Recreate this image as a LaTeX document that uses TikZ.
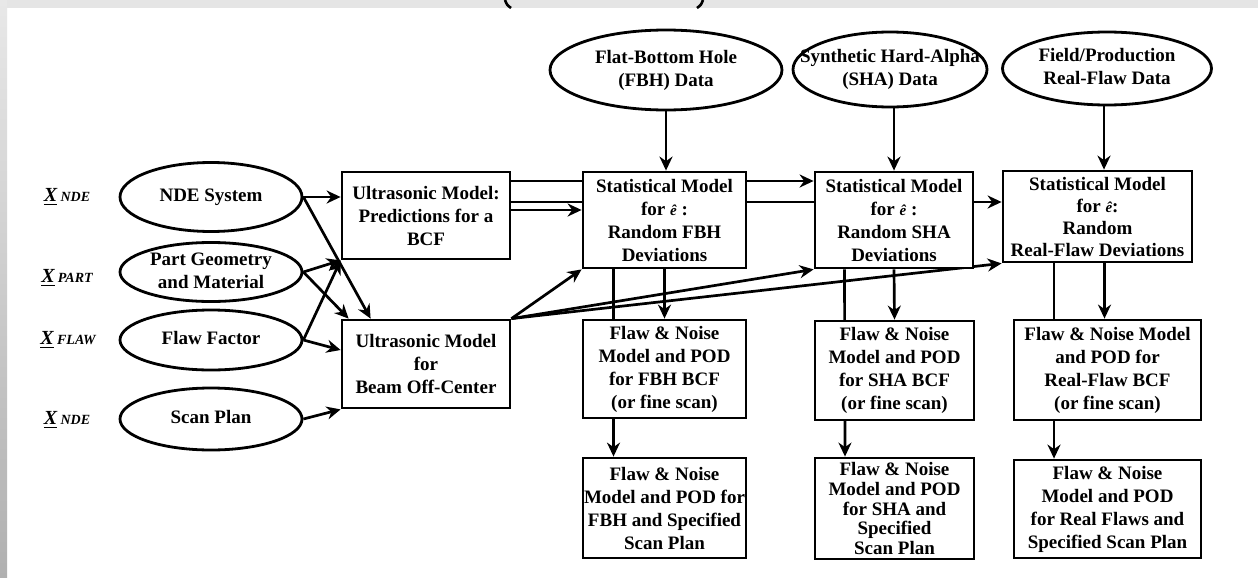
\documentclass[tikz,border=0pt]{standalone}
\usepackage{fontspec}
\setmainfont{Liberation Serif}
\usetikzlibrary{arrows.meta,calc,shapes.geometric}
\pgfdeclarelayer{back}
\pgfdeclarelayer{bg}
\pgfsetlayers{back,bg,main}
\newcommand{\ctext}[1]{\makebox[0pt]{\begin{tabular}{@{}c@{}}#1\end{tabular}}}
\newcommand{\xvar}[1]{\underline{X}\,{\fontsize{7}{8}\selectfont #1}}
\newcommand{\ehat}{{\fontsize{7.5}{8}\selectfont\itshape ê}}
\begin{document}
\begin{tikzpicture}[x=0.5pt,y=-0.5pt,
 box/.style={draw,line width=1.4pt,fill=white,rectangle,inner sep=0pt,align=center,font=\bfseries\fontsize{9.5}{11.5}\selectfont},
 oval/.style={draw,line width=1.4pt,fill=white,ellipse,inner sep=0pt,font=\bfseries\fontsize{9.5}{11.5}\selectfont},
 arr/.style={line width=1.35pt,-{Stealth[length=7pt,width=6.5pt]}},
 lab/.style={font=\bfseries\itshape\fontsize{10}{12}\selectfont}]
\useasboundingbox (0,0) rectangle (1258,578);
\begin{pgfonlayer}{back}
\fill[white] (0,0) rectangle (1258,578);
\fill[gray!20] (0,0) rectangle (1258,8);
\shade[top color=gray!18,bottom color=gray!62] (0,0) rectangle (7,578);
\end{pgfonlayer}
\draw[line width=1.3pt] (505,0) .. controls (507,5) .. (511,8);
\draw[line width=1.3pt] (703,0) .. controls (701,5) .. (697,8);

% left labels
\node[lab] (x1) at (67,197) {\xvar{NDE}};
\node[lab] (x2) at (67,278) {\xvar{PART}};
\node[lab] (x3) at (68,340) {\xvar{FLAW}};
\node[lab] (x4) at (67,420) {\xvar{NDE}};

% left ellipses
\node[oval,minimum width=91pt,minimum height=34.5pt] (e1) at (211,197) {\ctext{NDE System}};
\node[oval,minimum width=91pt,minimum height=29.5pt,inner ysep=-2.5pt] (e2) at (211,272) {\ctext{Part Geometry\\and Material}};
\node[oval,minimum width=91pt,minimum height=30pt] (e3) at (211,340) {\ctext{Flaw Factor}};
\node[oval,minimum width=91pt,minimum height=31pt] (e4) at (211,419) {\ctext{Scan Plan}};

% ultrasonic models
\node[box,minimum width=84pt,minimum height=43.5pt] (um1) at (426,215.5) {Ultrasonic Model:\\Predictions for a\\BCF};
\node[box,minimum width=84pt,minimum height=44pt] (um2) at (426,364) {Ultrasonic Model\\for\\Beam Off-Center};

% data ellipses
\node[oval,minimum width=116pt,minimum height=40pt] (d1) at (666,70) {\ctext{Flat-Bottom Hole\\(FBH) Data}};
\node[oval,minimum width=97pt,minimum height=37.5pt] (d2) at (890,69.5) {\ctext{Synthetic Hard-Alpha\\(SHA) Data}};
\node[oval,minimum width=104.5pt,minimum height=36.5pt] (d3) at (1107,68.5) {\ctext{Field/Production\\Real-Flaw Data}};

% statistical models
\node[box,minimum width=81.5pt,minimum height=48pt] (s1) at (664.5,220) {Statistical Model\\for \ehat\ :\\Random FBH\\Deviations};
\node[box,minimum width=79pt,minimum height=48pt] (s2) at (894,220) {Statistical Model\\for \ehat\ :\\Random SHA\\Deviations};
\node[box,minimum width=94.5pt,minimum height=45.5pt,font=\bfseries\fontsize{9.5}{11}\selectfont] (s3) at (1097.5,216.5) {Statistical Model\\for \ehat:\\Random\\Real-Flaw Deviations};

% flaw & noise BCF
\node[box,minimum width=81.5pt,minimum height=49pt] (f1) at (664.5,369) {Flaw \& Noise\\Model and POD\\for FBH BCF\\(or fine scan)};
\node[box,minimum width=79.5pt,minimum height=49.5pt] (f2) at (894.5,370.5) {Flaw \& Noise\\Model and POD\\for SHA BCF\\(or fine scan)};
\node[box,minimum width=93.5pt,minimum height=50pt] (f3) at (1107.5,370) {Flaw \& Noise Model\\and POD for\\Real-Flaw BCF\\(or fine scan)};

% flaw & noise scan plan
\node[box,minimum width=81.5pt,minimum height=50pt] (b1) at (664.5,508) {Flaw \& Noise\\Model and POD for\\FBH and Specified\\Scan Plan};
\node[box,minimum width=79.5pt,minimum height=50.5pt,font=\bfseries\fontsize{9.5}{9.8}\selectfont] (b2) at (894.5,508.5) {Flaw \& Noise\\Model and POD\\for SHA and\\Specified\\Scan Plan};
\node[box,minimum width=93.5pt,minimum height=49pt] (b3) at (1107.5,509) {Flaw \& Noise\\Model and POD\\for Real Flaws and\\Specified Scan Plan};

% connectors
\begin{pgfonlayer}{bg}
\draw[arr] (e1.east) -- (e1.east -| um1.west);
\draw[arr] (e1.east) -- ($(um2.north west)+(30,0)$);
\draw[arr] (e2.east) -- (um1.south west);
\draw[arr] (e2.east) -- ($(um2.north west)+(8,0)$);
\draw[arr] (e3.east) -- (um1.south west);
\draw[arr] (e3.east) -- ($(um2.west)+(0,-14)$);
\draw[arr] (e4.east) -- (um2.south west);

\draw[arr] (um1.east |- 0,210) -- (s1.west |- 0,210);
\draw[arr] (um1.east |- 0,181) -- (s2.west |- 0,181);
\draw[arr] (um1.east |- 0,202) -- (s3.west |- 0,202);
\draw[arr] (um2.north east) -- (s1.south west);
\draw[arr] (um2.north east) -- (s2.south west);
\draw[arr] (um2.north east) -- (s3.south west);

\draw[arr] (d1.south) -- (d1.south |- s1.north);
\draw[arr] (d2.south -| s2.north) -- (s2.north);
\draw[arr] ($(d3.south)+(-3,0)$) -- ($(d3.south |- s3.north)+(-3,0)$);

\draw[arr] (s1.south) -- (f1.north);
\draw[arr] (s2.south) -- (f2.north);
\draw[arr] ($(s3.south -| f3.north)+(-3,0)$) -- ($(f3.north)+(-3,0)$);

\draw[arr] ($(s1.south)+(-51,0)$) -- ($(b1.north)+(-51,0)$);
\draw[arr] ($(s2.south)+(-49.5,0)$) -- ($(b2.north)+(-49.5,0)$);
\draw[arr] ($(s3.south -| b3.north)+(-53.5,0)$) -- ($(b3.north)+(-53.5,0)$);
\end{pgfonlayer}
\end{tikzpicture}
\end{document}
